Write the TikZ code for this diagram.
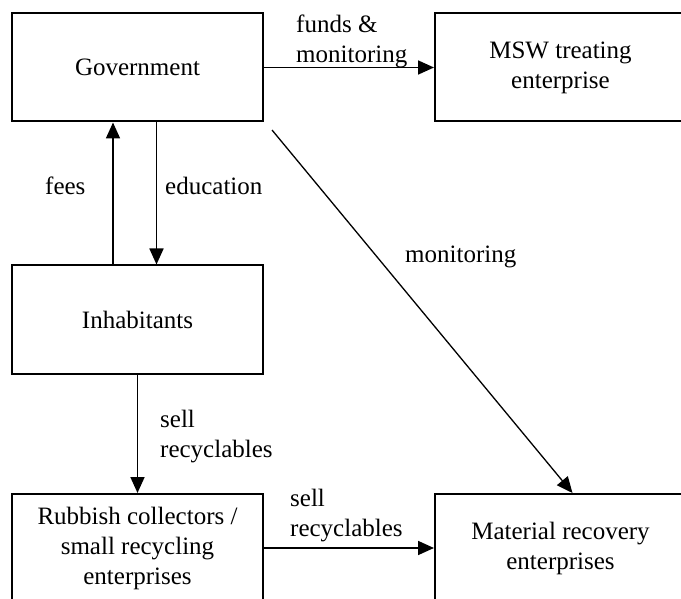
\documentclass[tikz,border=0pt]{standalone}
\usepackage{fontspec}
\setmainfont{Liberation Serif}
\usetikzlibrary{arrows.meta}

\tikzset{
    box/.style={draw, line width=2pt, minimum width=251pt, minimum height=108pt,
        inner sep=0pt, align=center},
    lbl/.style={inner sep=0pt, align=left, anchor=base west},
}

\begin{document}
\begin{tikzpicture}[x=1pt, y=-1pt, >={Triangle[length=16pt,width=14pt]},
    font=\fontsize{25}{30}\selectfont]
    % 描画範囲
    \clip (0,0) rectangle (681,599);

    % 各主体のボックス
    \node[box] (gov)     at (137.5, 67.5)  {Government};
    \node[box] (msw)     at (560.5, 67.5)  {MSW treating\\enterprise};
    \node[box] (inhab)   at (137.5, 319.5) {Inhabitants};
    \node[box] (collect) at (137.5, 548)   {Rubbish collectors /\\small recycling\\enterprises};
    \node[box] (recov)   at (560.5, 548)   {Material recovery\\enterprises};

    % 矢印
    \draw[->, line width=1.8pt] (gov.east) -- (msw.west);
    \draw[->, line width=1.8pt] ([xshift=-24.5pt]inhab.north) -- ([xshift=-24.5pt]gov.south);
    \draw[->, line width=1.8pt] ([xshift=19pt]gov.south) -- ([xshift=19pt]inhab.north);
    \draw[->, line width=1.8pt] (inhab.south) -- (collect.north);
    \draw[->, line width=1.8pt] (collect.east) -- (recov.west);

    % 監視 (斜めの矢印)
    \coordinate (m0) at (272, 130);
    \draw[->, line width=1.3pt] (m0) -- ([xshift=12pt]recov.north);

    % ラベル (複数行は最終行のベースライン)
    \node[lbl] (l1) at (296, 63)  {funds \&\\monitoring};
    \node[lbl] (l2) at (45, 195)  {fees};
    \node[lbl] (l3) at (165, 195) {education};
    \node[lbl] (l4) at (405, 263) {monitoring};
    \node[lbl] (l5) at (160, 457) {sell\\recyclables};
    \node[lbl] (l6) at (290, 536) {sell\\recyclables};
\end{tikzpicture}
\end{document}
